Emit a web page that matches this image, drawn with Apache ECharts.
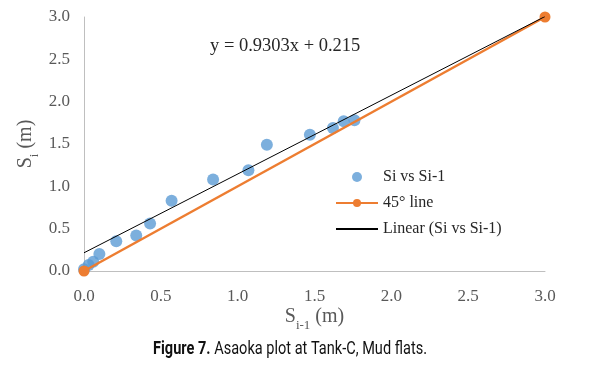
<!DOCTYPE html>
<html><head><meta charset="utf-8">
<script src="https://cdn.jsdelivr.net/npm/echarts@6/dist/echarts.min.js"></script>
<style>html,body{margin:0;padding:0;background:#fff}#c{width:593px;height:370px}</style>
</head><body><div id="c"></div>
<script>
const siPrev = [0.00, 0.03, 0.06, 0.10, 0.21, 0.34, 0.43, 0.57, 0.84, 1.07, 1.19, 1.47, 1.62, 1.69, 1.76];
const si     = [0.02, 0.07, 0.11, 0.20, 0.35, 0.42, 0.56, 0.83, 1.08, 1.19, 1.49, 1.61, 1.69, 1.77, 1.78];
const line45X = [0, 3];
const line45Y = [0, 3];
const trendSlope = 0.9303, trendIntercept = 0.215;
const trendX = [0, 3];

const serif = 'Liberation Serif, Times New Roman, serif';
const capFont = 'Roboto, sans-serif';
const capBold = 'Figure 7.', capRest = ' Asaoka plot at Tank-C, Mud flats.';
const cx = document.createElement('canvas').getContext('2d');
cx.font = 'bold 19px ' + capFont; let w1 = cx.measureText(capBold).width;
cx.font = '19px ' + capFont; let w2 = cx.measureText(capRest).width;
const capScale = 274 / (w1 + w2);

const chart = echarts.init(document.getElementById('c'), null, {renderer:'canvas'});
const nameRich = {a:{fontFamily:serif,fontSize:20,color:'#595959',verticalAlign:'bottom',lineHeight:20},
      b:{fontFamily:serif,fontSize:13,color:'#595959',verticalAlign:'bottom',lineHeight:12,padding:[0,0,-5,0]}};
chart.setOption({
  animation:false,
  grid:{left:84, right:48, top:17, bottom:99},
  xAxis:{type:'value', min:0, max:3, interval:0.5,
    axisLine:{lineStyle:{color:'#bfbfbf'}}, axisTick:{show:false}, splitLine:{show:false},
    axisLabel:{color:'#595959', fontFamily:serif, fontSize:17, margin:17, formatter:v=>v.toFixed(1)},
    name:'{a|S}{b|i-1}{a| (m)}', nameLocation:'middle', nameGap:36, nameMoveOverlap:false,
    nameTextStyle:{rich:nameRich}},
  yAxis:{type:'value', min:0, max:3, interval:0.5,
    axisLine:{show:true, lineStyle:{color:'#bfbfbf'}}, axisTick:{show:false}, splitLine:{show:false},
    axisLabel:{color:'#595959', fontFamily:serif, fontSize:17, margin:14, formatter:v=>v.toFixed(1)},
    name:'{a|S}{b|i}{a| (m)}', nameLocation:'middle', nameGap:48, nameMoveOverlap:false,
    nameTextStyle:{rich:nameRich}},
  legend:{left:330, top:164, orient:'vertical', itemGap:10, itemWidth:42, itemHeight:10,
    textStyle:{fontFamily:serif, fontSize:16, color:'#262626'},
    data:[{name:'Si vs Si-1'},{name:'45° line'},{name:'Linear (Si vs Si-1)', itemStyle:{opacity:0}}]},
  series:[
    {name:'45° line', type:'line', data:line45X.map((x,i)=>[x,line45Y[i]]), symbol:'circle', symbolSize:11,
      itemStyle:{color:'#ed7d31'}, lineStyle:{color:'#ed7d31', width:2.5}, z:3},
    {name:'Si vs Si-1', type:'scatter', data:siPrev.map((x,i)=>[x,si[i]]), symbol:'circle', symbolSize:12,
      itemStyle:{color:'#5b9bd5'}, z:2},
    {name:'Linear (Si vs Si-1)', type:'line', data:trendX.map(x=>[x, trendSlope*x+trendIntercept]), symbol:'none',
      itemStyle:{color:'#000'}, lineStyle:{color:'#000', width:1}, z:4}
  ],
  graphic:[
    {type:'text', x:210, y:37, style:{text:'y = 0.9303x + 0.215', font:'18.5px '+serif, fill:'#262626'}},
    {type:'text', x:153, y:340, scaleX:capScale, style:{rich:{b:{fontFamily:capFont,fontWeight:'bold',fontSize:19,fill:'#111'},
      r:{fontFamily:capFont,fontSize:19,fill:'#111'}},
      text:'{b|' + capBold + '}{r|' + capRest + '}'}}
  ]
});
</script></body></html>
